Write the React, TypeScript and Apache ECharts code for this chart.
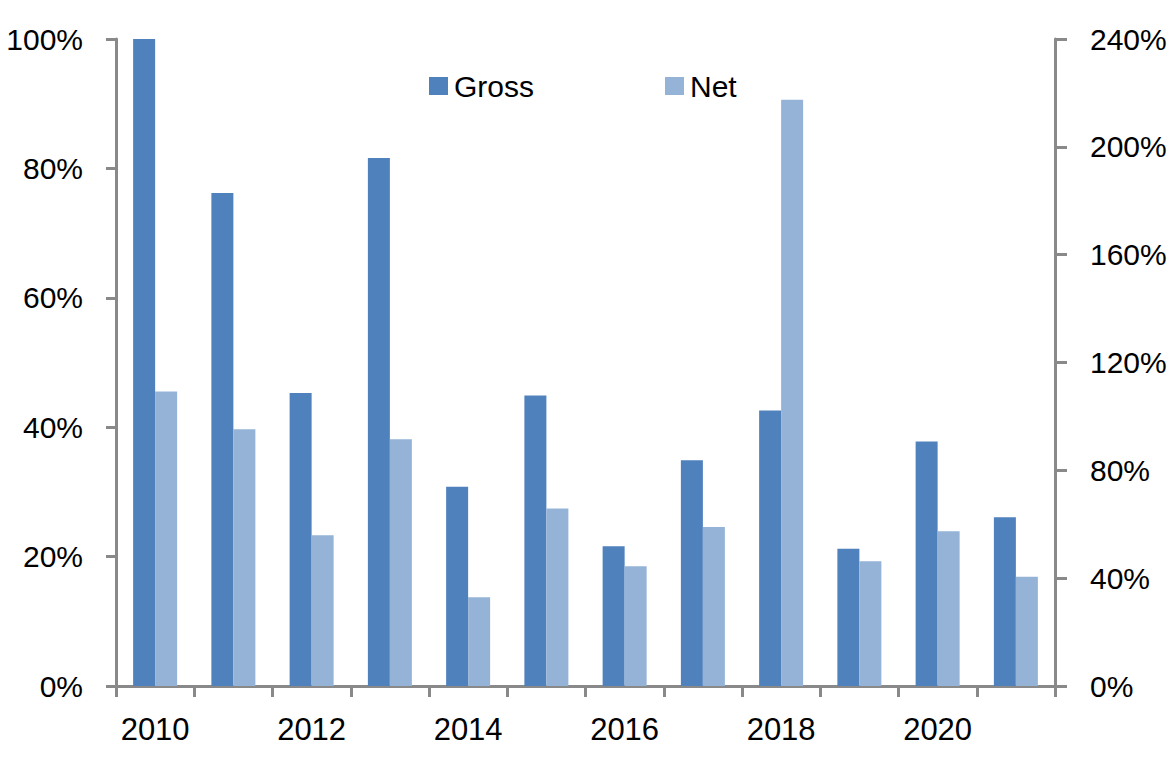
import React, { useEffect, useRef } from "react";
import * as echarts from "echarts";

const years = ["2010", "2011", "2012", "2013", "2014", "2015", "2016", "2017", "2018", "2019", "2020", "2021"];
const gross = [100, 76.2, 45.3, 81.6, 30.8, 44.9, 21.6, 34.9, 42.6, 21.2, 37.8, 26.1];
const net = [109.2, 95.2, 55.9, 91.5, 32.9, 65.8, 44.4, 59.0, 217.5, 46.3, 57.4, 40.5];
const leftTicks = { min: 0, max: 100, interval: 20 };
const rightTicks = { min: 0, max: 240, interval: 40 };

const AXIS = "#898989";
const FONT = "'Liberation Sans', Arial, sans-serif";

export default function App() {
  const ref = useRef<HTMLDivElement>(null);
  useEffect(() => {
    if (!ref.current) return;
    const chart = echarts.init(ref.current, null, { renderer: "svg" });
    const legendText = { fontSize: 30, color: "#000", fontFamily: FONT, lineHeight: 30, padding: [0, 0, 0, 1] };
    chart.setOption({
      animation: false,
      backgroundColor: "#ffffff",
      textStyle: { fontFamily: FONT },
      grid: { left: 116, right: 119, top: 39, bottom: 74, containLabel: false, outerBoundsMode: "none" },
      legend: [
        {
          data: ["Gross"],
          left: 424,
          top: 66,
          itemWidth: 19,
          itemHeight: 18,
          icon: "rect",
          itemGap: 0,
          textStyle: legendText,
        },
        {
          data: ["Net"],
          left: 660,
          top: 66,
          itemWidth: 19,
          itemHeight: 18,
          icon: "rect",
          itemGap: 0,
          textStyle: legendText,
        },
      ],
      xAxis: {
        type: "category",
        data: years,
        boundaryGap: true,
        axisLine: { show: true, lineStyle: { color: AXIS, width: 3 } },
        axisTick: { show: true, interval: 0, length: 11, lineStyle: { color: AXIS, width: 3 } },
        axisLabel: { interval: 1, fontSize: 31, color: "#000", margin: 28, fontFamily: FONT },
        splitLine: { show: false },
      },
      yAxis: [
        {
          type: "value",
          position: "left",
          ...leftTicks,
          axisLine: { show: true, lineStyle: { color: AXIS, width: 3 } },
          axisTick: { show: true, length: 10, lineStyle: { color: AXIS, width: 3 } },
          axisLabel: { formatter: "{value}%", fontSize: 30, color: "#000", margin: 33, fontFamily: FONT },
          splitLine: { show: false },
        },
        {
          type: "value",
          position: "right",
          ...rightTicks,
          axisLine: { show: true, lineStyle: { color: AXIS, width: 3 } },
          axisTick: { show: true, length: 12, lineStyle: { color: AXIS, width: 3 } },
          axisLabel: { formatter: "{value}%", fontSize: 30, color: "#000", margin: 35, fontFamily: FONT },
          splitLine: { show: false },
        },
      ],
      series: [
        {
          name: "Gross",
          type: "bar",
          yAxisIndex: 0,
          data: gross,
          barWidth: 22,
          barGap: "0%",
          itemStyle: { color: "#4F81BD" },
        },
        {
          name: "Net",
          type: "bar",
          yAxisIndex: 1,
          data: net,
          barWidth: 22,
          barGap: "0%",
          itemStyle: { color: "#95B3D7" },
        },
      ],
    });
    return () => chart.dispose();
  }, []);
  return <div ref={ref} style={{ position: "fixed", left: 0, top: 0, width: 1174, height: 760 }} />;
}
